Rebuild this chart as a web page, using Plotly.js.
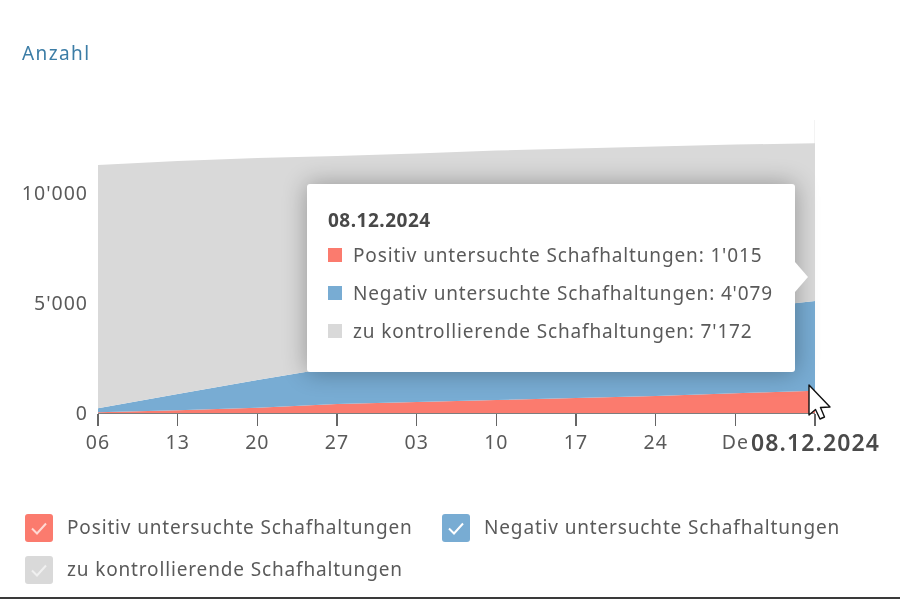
<!DOCTYPE html>
<html><head><meta charset="utf-8">
<script src="https://cdn.plot.ly/plotly-3.0.1.min.js"></script>
<style>
html,body{margin:0;padding:0;background:#fff;overflow:hidden}
#wrap{position:relative;width:900px;height:599px;font-family:"Noto Sans",sans-serif;color:#555;filter:blur(0.35px)}
#chart{position:absolute;left:0;top:0;width:900px;height:599px}
#chart .xtick text,#chart .ytick text{letter-spacing:1px}
#tip{position:absolute;left:307px;top:184px;width:488px;height:188px;background:#fff;border-radius:3px;box-shadow:0 0 24px rgba(0,0,0,.32)}
#tip:after{content:"";position:absolute;left:488px;top:78px;border-left:13px solid #fff;border-top:15px solid transparent;border-bottom:15px solid transparent}
#tip .h{position:absolute;left:21px;top:23px;font-size:19px;font-weight:700;color:#484848;line-height:26px;letter-spacing:.5px}
#tip .r{position:absolute;left:21px;font-size:19px;line-height:26px;white-space:nowrap;color:#5a5a5a;letter-spacing:.85px}
#tip .r i{position:absolute;left:0;top:6px;width:14px;height:14px}
#tip .r span{margin-left:25px}
.lg{position:absolute;font-size:19px;line-height:26px;white-space:nowrap;color:#5a5a5a;letter-spacing:.85px}
.cb{position:absolute;width:28px;height:28px;border-radius:3px}
.cb svg{position:absolute;left:0;top:0}
#bar{position:absolute;left:0;top:597px;width:900px;height:2px;background:#3a3a3a}
#cur{position:absolute;left:805px;top:382px}
#blabel{position:absolute;left:751px;top:426px;font-size:23px;font-weight:600;color:#4a4a4a;line-height:32px;white-space:nowrap;letter-spacing:1.1px}
#ytitle{position:absolute;left:22px;top:40px;font-size:19px;line-height:26px;color:#3c7da6;letter-spacing:1.4px}
</style></head>
<body><div id="wrap">
<div id="chart"></div>
<div id="ytitle">Anzahl</div>
<div id="tip"></div>
<div id="blabel"></div>
<div id="legend"></div>
<svg id="cur" width="30" height="40" viewBox="0 0 30 40"><path d="M4 3 L4 33 L10.5 27.5 L15 37 L19.5 35 L15.5 25.5 L25 25 Z" fill="#fff" stroke="#111" stroke-width="1.4" stroke-linejoin="round"/></svg>
<div id="bar"></div>
</div>
<script>
var dates = ["2024-10-06","2024-10-13","2024-10-20","2024-10-27","2024-11-03","2024-11-10","2024-11-17","2024-11-24","2024-12-01","2024-12-08"];
var tickLabels = ["06","13","20","27","03","10","17","24","De",""];
var positiv = [30,130,240,410,500,590,680,770,900,1015];
var negativ = [190,730,1260,1690,2150,2510,2920,3330,3800,4079];
var kontrolle = [11050,10595,10090,9580,9150,8830,8420,8010,7500,7172];
var names = ["Positiv untersuchte Schafhaltungen","Negativ untersuchte Schafhaltungen","zu kontrollierende Schafhaltungen"];
var colors = ["#fb7b6e","#78acd3","#d9d9d9"];
var checkColors = ["#ffd9d4","#ffffff","#f0f0f0"];
var yTicks = [0,5000,10000];
var activeDate = "08.12.2024";
var series = [positiv,negativ,kontrolle];

var traces = series.map(function(v,i){
  return {x:dates,y:v,name:names[i],type:"scatter",mode:"none",stackgroup:"one",fill:"tonexty",fillcolor:colors[i],hoverinfo:"skip"};
});
var font = {family:'"Noto Sans",sans-serif',size:19.5,color:"#5a5a5a"};
Plotly.newPlot("chart",traces,{
  width:900,height:599,showlegend:false,separators:".'",
  margin:{l:98,r:85,t:120,b:186,pad:0},
  paper_bgcolor:"#fff",plot_bgcolor:"#fff",font:font,
  xaxis:{type:"date",range:[dates[0],dates[dates.length-1]],tickvals:dates,ticktext:tickLabels,tickangle:0,
         showgrid:false,zeroline:false,showline:true,linecolor:"#7d7d7d",linewidth:1,
         ticks:"outside",ticklen:12,tickwidth:1.4,tickcolor:"#666",tickfont:font},
  yaxis:{range:[0,13318],tickvals:yTicks,tickformat:",d",showgrid:false,zeroline:false,showline:false,
         ticks:"",ticklabelstandoff:9,tickfont:font},
  shapes:[{type:"line",xref:"x",yref:"paper",x0:dates[dates.length-1],x1:dates[dates.length-1],y0:0,y1:1,line:{color:"#efefef",width:1.5},layer:"below"}]
},{displayModeBar:false,staticPlot:true});

function fmt(n){return String(n).replace(/\B(?=(\d{3})+$)/g,"'");}
var last = dates.length-1;
var tip = document.getElementById("tip");
var h = '<div class="h">'+activeDate+'</div>';
names.forEach(function(n,i){
  h += '<div class="r" style="top:'+(58+38*i)+'px"><i style="background:'+colors[i]+'"></i><span>'+n+': '+fmt(series[i][last])+'</span></div>';
});
tip.innerHTML = h;
document.getElementById("blabel").textContent = activeDate;
var slots = [[25,514,67],[442,514,484],[25,556,67]];
var lg = "";
names.forEach(function(n,i){
  var s = slots[i];
  lg += '<div class="cb" style="left:'+s[0]+'px;top:'+s[1]+'px;background:'+colors[i]+'"><svg width="28" height="28"><path d="M7 14.5 L12 19.5 L21 9.5" fill="none" stroke="'+checkColors[i]+'" stroke-width="2"/></svg></div>';
  lg += '<div class="lg" style="left:'+s[2]+'px;top:'+s[1]+'px">'+n+'</div>';
});
document.getElementById("legend").innerHTML = lg;
</script>
</body></html>
